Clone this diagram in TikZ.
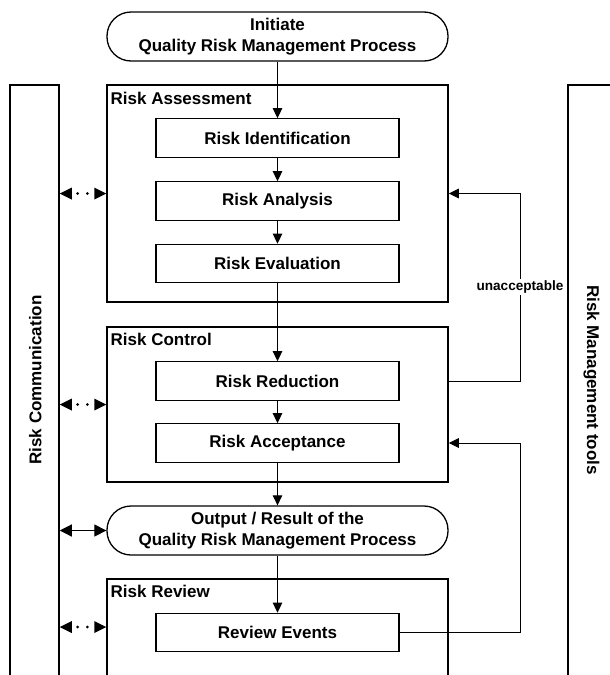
\documentclass[tikz,border=0pt]{standalone}
\usepackage{fontspec}
\setmainfont{Liberation Sans}
\usetikzlibrary{arrows.meta,calc}
\begin{document}
\begin{tikzpicture}[x=1pt,y=-1pt,
  every node/.style={font=\bfseries\fontsize{17}{20.5}\selectfont},
  group/.style={draw, line width=1.5pt, inner sep=0pt, minimum width=341pt},
  stepbox/.style={draw, line width=1.2pt, inner sep=0pt, minimum width=243pt, minimum height=38.5pt},
  pill/.style={draw, line width=1.3pt, rounded corners=24pt, inner sep=0pt, minimum width=341pt, minimum height=49pt, align=center},
  side/.style={draw, line width=1.5pt, inner sep=0pt, minimum width=49pt, minimum height=615pt},
  grouplabel/.style={anchor=base west, inner sep=0pt},
  flow/.style={line width=1pt, -{Triangle[length=10pt,width=9.5pt]}},
  both/.style={line width=1.2pt, {Triangle[length=12pt,width=12pt]}-{Triangle[length=12pt,width=12pt]}},
  dotmark/.style={fill=black}
]
\useasboundingbox (0,0) rectangle (610,675);
\clip (0,0) rectangle (610,675);
\fill[white] (0,0) rectangle (610,675);

% side columns
\node[side] (comm) at (34.5,392.5) {};
\node[side] (tools) at (592.5,392.5) {};
\node[anchor=base, rotate=90, inner sep=0pt] (commtxt) at (41.5,380) {Risk Communication};
\node[anchor=base, rotate=-90, inner sep=0pt] (toolstxt) at (587,380) {Risk Management tools};

% groups
\node[group, minimum height=217pt] (ra) at (277.5,193.5) {};
\node[group, minimum height=155pt] (rc) at (277.5,404.5) {};
\node[group, minimum height=121pt] (rr) at (277.5,639.5) {};
\node[grouplabel] (ralbl) at (110.5,104) {Risk Assessment};
\node[grouplabel] (rclbl) at (110.5,345.5) {Risk Control};
\node[grouplabel] (rrlbl) at (110.5,597.5) {Risk Review};

% pills
\node[pill] (init) at (277.5,36.5) {Initiate\\Quality Risk Management Process};
\node[pill] (out) at (277.5,530.5) {Output / Result of the\\Quality Risk Management Process};

% steps
\node[stepbox] (rid) at (277.5,138) {Risk Identification};
\node[stepbox] (ran) at (277.5,201) {Risk Analysis};
\node[stepbox] (rev) at (277.5,263.5) {Risk Evaluation};
\node[stepbox] (rred) at (277.5,381) {Risk Reduction};
\node[stepbox] (racc) at (277.5,443) {Risk Acceptance};
\node[stepbox] (revt) at (277.5,632.5) {Review Events};

% main flow
\draw[flow] (init.south) -- (rid.north);
\draw[flow] (rid.south) -- (ran.north);
\draw[flow] (ran.south) -- (rev.north);
\draw[flow] (rev.south) -- (rred.north);
\draw[flow] (rred.south) -- (racc.north);
\draw[flow] (racc.south) -- (out.north);
\draw[flow] (out.south) -- (revt.north);

% communication arrows (tips with dotted middle)
\coordinate (c1) at (comm.east |- ra.west);
\coordinate (c2) at (comm.east |- rc.west);
\coordinate (c3) at (comm.east |- 0,627);
\coordinate (c3b) at (rr.west |- 0,627);
\foreach \a/\b in {c1/ra.west, c2/rc.west, c3/c3b}{
  \fill[dotmark] (\a) -- ++(12,-6) -- ++(0,12) -- cycle;
  \fill[dotmark] (\b) -- ++(-12,-6) -- ++(0,12) -- cycle;
  \fill[dotmark] ($(\a)!0.385!(\b)$) circle (1.5pt);
  \fill[dotmark] ($(\a)!0.595!(\b)$) circle (1.5pt);
}
\draw[both] (comm.east |- out.west) -- (out.west);

% feedback loops
\coordinate (fb1) at (520,381);
\draw[flow] (rc.east |- fb1) -- (fb1) -- (fb1 |- ra.east) -- (ra.east);
\node[fill=white, inner sep=2pt, font=\bfseries\fontsize{13.6}{16}\selectfont] (unacc) at (520,287) {unacceptable};
\draw[flow] (revt.east) -- (revt.east -| fb1) -- (fb1 |- racc.east) -- (rc.east |- racc.east);
\end{tikzpicture}
\end{document}
